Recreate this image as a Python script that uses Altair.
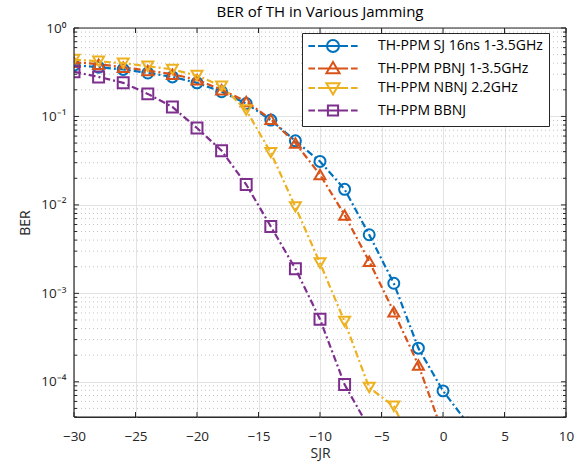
import altair as alt
import pandas as pd

# ---------------- data ----------------
series_names = [
    "TH-PPM SJ 16ns 1-3.5GHz",
    "TH-PPM PBNJ 1-3.5GHz",
    "TH-PPM NBNJ 2.2GHz",
    "TH-PPM BBNJ",
]
colors = ["#0072BD", "#D95319", "#EDB120", "#7E2F8E"]
marker_shapes = ["circle", "triangle-up", "triangle-down", "square"]

sjr_sj = [-30, -28, -26, -24, -22, -20, -18, -16, -14, -12, -10, -8, -6, -4, -2, 0, 2]
ber_sj = [0.38, 0.36, 0.34, 0.31, 0.28, 0.24, 0.19, 0.14, 0.091, 0.053, 0.031, 0.015,
          0.0046, 0.0013, 0.00024, 7.9e-5, 3.4e-5]

sjr_pbnj = [-30, -28, -26, -24, -22, -20, -18, -16, -14, -12, -10, -8, -6, -4, -2, 0]
ber_pbnj = [0.41, 0.39, 0.36, 0.33, 0.30, 0.26, 0.20, 0.148, 0.093, 0.050, 0.022, 0.0077,
            0.0023, 0.00062, 0.000155, 2.6e-5]

sjr_nbnj = [-30, -28, -26, -24, -22, -20, -18, -16, -14, -12, -10, -8, -6, -4, -2]
ber_nbnj = [0.44, 0.42, 0.40, 0.37, 0.34, 0.29, 0.22, 0.118, 0.039, 0.0095, 0.0022,
            0.00048, 8.6e-5, 5.3e-5, 1.4e-5]

sjr_bbnj = [-30, -28, -26, -24, -22, -20, -18, -16, -14, -12, -10, -8, -6]
ber_bbnj = [0.32, 0.28, 0.24, 0.18, 0.128, 0.074, 0.041, 0.017, 0.0057, 0.0019, 0.00051,
            9.3e-5, 3.0e-5]

x_ticks = [-30, -25, -20, -15, -10, -5, 0, 5, 10]
y_ticks = [1e-4, 1e-3, 1e-2, 1e-1, 1.0]
y_minor = [m * 10.0 ** d for d in [-5, -4, -3, -2, -1] for m in range(2, 10)
           if 4e-5 <= m * 10.0 ** d < 1]

# legend symbols: dash-dot line segments plus the marker (custom paths)
dash = "M-4.1,0L-3.0,0M-2.5,0L2.5,0M3.0,0L4.1,0"
legend_paths = [
    dash + "M1,0A1,1 0 1,1 -1,0A1,1 0 1,1 1,0",
    dash + "M0,-1.1L1.1,0.8L-1.1,0.8Z",
    dash + "M0,1.1L1.1,-0.8L-1.1,-0.8Z",
    dash + "M-0.85,-0.85L0.85,-0.85L0.85,0.85L-0.85,0.85Z",
]

frames = []
for name, xs, ys in zip(series_names,
                        [sjr_sj, sjr_pbnj, sjr_nbnj, sjr_bbnj],
                        [ber_sj, ber_pbnj, ber_nbnj, ber_bbnj]):
    frames.append(pd.DataFrame({"SJR": xs, "BER": ys, "series": name}))
df = pd.concat(frames, ignore_index=True)

W, H = 492, 389
FONT = "Open Sans"
TXT = "#262626"

xscale = alt.Scale(domain=[-30, 10], nice=False, zero=False)
yscale = alt.Scale(type="log", domain=[4e-5, 1], nice=False)

label_expr = "['10⁰','10⁻¹','10⁻²','10⁻³','10⁻⁴'][round(-log(datum.value)/LN10)]"
xaxis = alt.Axis(values=x_ticks, title="SJR", grid=True, ticks=False,
                 domain=False, labelPadding=12, titlePadding=4, format="d",
                 labelFlush=False)
yaxis = alt.Axis(values=y_ticks, title="BER", grid=True, ticks=False,
                 domain=False, labelExpr=label_expr, labelPadding=8,
                 titlePadding=8, labelFlush=False)


def X(field):
    return alt.X(field, scale=xscale, axis=xaxis)


def Y(field):
    return alt.Y(field, scale=yscale, axis=yaxis)


# minor grid (dotted)
minor_df = pd.DataFrame({"v": y_minor})
minor_grid = alt.Chart(minor_df).mark_rule(
    color="#a0a0a0", strokeDash=[1, 3], strokeWidth=0.8, opacity=0.8
).encode(y=Y("v:Q"))


# inward ticks on the box (line-segment rules: both ends given)
def ytick(data, x0, x1):
    return alt.Chart(data).mark_rule(color=TXT, strokeWidth=1).encode(
        y=Y("v:Q"), y2=alt.Y2("v:Q"), x=alt.value(x0), x2=alt.value(x1))


def xtick(data, y0, y1):
    return alt.Chart(data).mark_rule(color=TXT, strokeWidth=1).encode(
        x=X("v:Q"), x2=alt.X2("v:Q"), y=alt.value(y0), y2=alt.value(y1))


major_y_df = pd.DataFrame({"v": y_ticks})
major_x_df = pd.DataFrame({"v": x_ticks})

layers = [minor_grid,
          ytick(minor_df, 0, 3), ytick(minor_df, W - 3, W),
          ytick(major_y_df, 0, 5), ytick(major_y_df, W - 5, W),
          xtick(major_x_df, H, H - 5), xtick(major_x_df, 0, 5)]

for name, shp, col in zip(series_names, marker_shapes, colors):
    sub = alt.Chart(df).transform_filter(alt.datum.series == name)
    line = sub.mark_line(strokeWidth=2.2, strokeDash=[7, 3, 2, 3], clip=True,
                         color=col).encode(
        x=X("SJR:Q"), y=Y("BER:Q"), order="SJR:Q")
    pts = sub.mark_point(shape=shp, size=120, strokeWidth=2, filled=False,
                         clip=True, color=col, opacity=1).encode(
        x=X("SJR:Q"), y=Y("BER:Q"))
    layers += [line, pts]

# plot box: four line-segment rules
one = pd.DataFrame({"k": [0]})
for (a, b, c, d) in [(0, W, 0, 0), (0, W, H, H), (0, 0, 0, H), (W, W, 0, H)]:
    layers.append(alt.Chart(one).mark_rule(color=TXT, strokeWidth=1.2).encode(
        x=alt.value(a), x2=alt.value(b), y=alt.value(c), y2=alt.value(d)))

legend_layer = alt.Chart(df).mark_point(opacity=0, filled=False, size=144,
                                        strokeWidth=2).encode(
    x=X("SJR:Q"),
    y=Y("BER:Q"),
    color=alt.Color("series:N",
                    scale=alt.Scale(domain=series_names, range=colors),
                    legend=alt.Legend(title=None, orient="none", legendX=228,
                                      legendY=5)),
    shape=alt.Shape("series:N",
                    scale=alt.Scale(domain=series_names, range=legend_paths),
                    legend=alt.Legend(title=None, orient="none", legendX=228,
                                      legendY=5)),
)
layers.append(legend_layer)

chart = alt.layer(*layers).properties(
    width=W, height=H,
    title=alt.TitleParams("BER of TH in Various Jamming", fontSize=15,
                          font=FONT, fontWeight="normal", color="#000000",
                          offset=1, anchor="middle"),
    autosize=alt.AutoSizeParams(type="none"),
    padding={"left": 74, "top": 28, "right": 20, "bottom": 49},
).configure_view(
    stroke=TXT, strokeWidth=1
).configure_axis(
    labelFont=FONT, titleFont=FONT, labelFontSize=13.5, titleFontSize=14,
    labelColor=TXT, titleColor=TXT, titleFontWeight="normal",
    gridColor="#e3e3e3", gridWidth=1,
).configure_legend(
    labelFont=FONT, labelFontSize=14, labelColor="#000000", labelLimit=400,
    symbolSize=144, symbolStrokeWidth=2, symbolOffset=18, labelOffset=38,
    padding=6, rowPadding=1.5, fillColor="white", strokeColor=TXT,
    cornerRadius=0,
)

chart.save("out.html", embed_options={"renderer": "svg", "actions": False})
